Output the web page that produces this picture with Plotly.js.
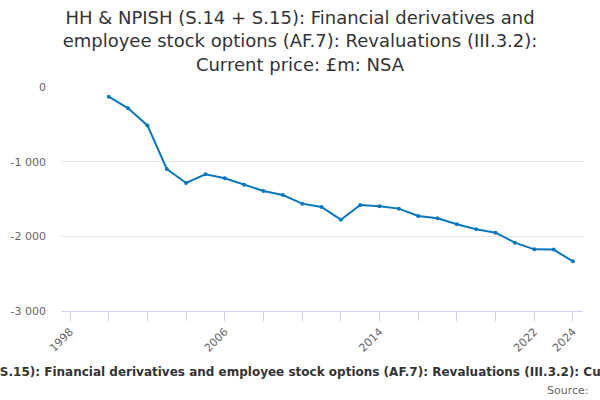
<!DOCTYPE html>
<html>
<head>
<meta charset="utf-8">
<script src="https://cdn.plot.ly/plotly-3.0.1.min.js"></script>
<style>
  html, body { margin: 0; padding: 0; background: #fff; }
  #myDiv { width: 600px; height: 400px; }
</style>
</head>
<body>
<div id="myDiv"></div>
<script>
// values, £m
let years = [2000, 2001, 2002, 2003, 2004, 2005, 2006, 2007, 2008, 2009, 2010, 2011, 2012,
  2013, 2014, 2015, 2016, 2017, 2018, 2019, 2020, 2021, 2022, 2023, 2024]
let values = [-130, -286, -514, -1098, -1285, -1170, -1223, -1308, -1392, -1446, -1562, -1606, -1777,
  -1580, -1598, -1629, -1727, -1759, -1839, -1906, -1951, -2085, -2174, -2178, -2335]

// x ticks every two years, only some labelled
let xTickVals = [1998, 2000, 2002, 2004, 2006, 2008, 2010, 2012, 2014, 2016, 2018, 2020, 2022, 2024]
let xTickText = ['1998', '', '', '', '2006', '', '', '', '2014', '', '', '', '2022', '2024']

let yTickVals = [0, -1000, -2000, -3000]
let yTickText = ['0', '-1 000', '-2 000', '-3 000']

let titleText = 'HH & NPISH (S.14 + S.15): Financial derivatives and employee stock options (AF.7): Revaluations (III.3.2): Current price: £m: NSA'

let trace = {
  x: years,
  y: values,
  mode: 'lines+markers',
  type: 'scatter',
  line: {color: '#0a78c0', width: 2},
  marker: {color: '#0a78c0', size: 4},
  hoverinfo: 'x+y'
}

let layout = {
  width: 600,
  height: 400,
  margin: {l: 61, r: 17, t: 87, b: 89},
  paper_bgcolor: '#fff',
  plot_bgcolor: '#fff',
  font: {family: 'DejaVu Sans, sans-serif', color: '#666', size: 11},
  showlegend: false,
  title: {
    text: 'HH & NPISH (S.14 + S.15): Financial derivatives and<br>employee stock options (AF.7): Revaluations (III.3.2):<br>Current price: £m: NSA',
    font: {family: 'DejaVu Sans, sans-serif', size: 18, color: '#333'},
    x: 0.5,
    xanchor: 'center',
    yref: 'container',
    y: 0.94,
    yanchor: 'top'
  },
  xaxis: {
    range: [1997.53, 2024.52],
    tickmode: 'array',
    tickvals: xTickVals,
    ticktext: xTickText,
    tickangle: -45,
    ticks: 'outside',
    ticklen: 9,
    tickcolor: '#ccd6eb',
    showgrid: false,
    showline: true,
    linecolor: '#ccd6eb',
    linewidth: 1,
    zeroline: false,
    tickfont: {size: 11, color: '#666'}
  },
  yaxis: {
    range: [-3000, 0],
    tickmode: 'array',
    tickvals: yTickVals,
    ticktext: yTickText,
    showgrid: true,
    gridcolor: '#e6e6e6',
    zeroline: false,
    showline: false,
    ticks: '',
    ticklabelstandoff: 14,
    tickfont: {size: 11, color: '#666'}
  },
  annotations: [
    {
      // caption is centred on the page, wider than it, as in the original
      text: '<b>' + titleText + '</b>',
      xref: 'paper', yref: 'paper',
      x: 0.4579, y: -0.272,
      xanchor: 'center', yanchor: 'middle',
      showarrow: false,
      font: {size: 12, color: '#333'}
    },
    {
      text: 'Source:',
      xref: 'paper', yref: 'paper',
      x: 1.015, y: -0.353,
      xanchor: 'right', yanchor: 'middle',
      showarrow: false,
      font: {size: 11, color: '#666'}
    }
  ]
}

Plotly.newPlot('myDiv', [trace], layout, {displayModeBar: false})
</script>
</body>
</html>
